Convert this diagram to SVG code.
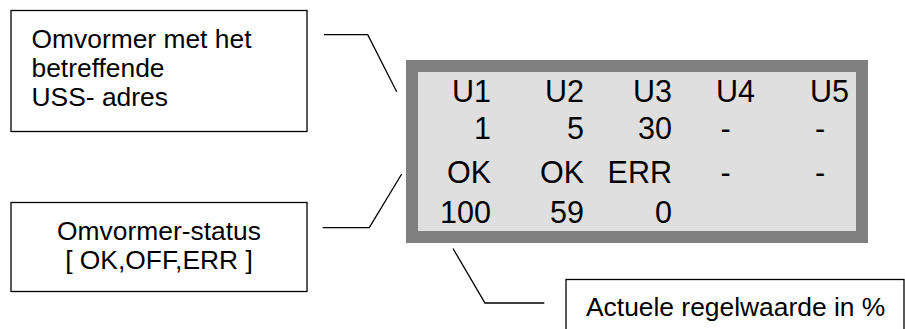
<svg xmlns="http://www.w3.org/2000/svg" width="905" height="329" viewBox="0 0 905 329">
  <style>
    .box { fill: #ffffff; stroke: #000000; stroke-width: 1.3; }
    .lbl { font-family: "Liberation Sans", Arial, sans-serif; font-size: 26.4px; fill: #000000; }
    .lcd { font-family: "Liberation Sans", Arial, sans-serif; font-size: 30.5px; fill: #000000; }
    .lead { fill: none; stroke: #000000; stroke-width: 1.3; }
    .r { text-anchor: end; }
  </style>
  <rect width="905" height="329" fill="#ffffff"/>

  <!-- label: inverter with USS address -->
  <g id="label-address">
    <rect class="box" x="11" y="10.5" width="296" height="121"/>
    <text class="lbl" x="31.5" y="47.5">Omvormer met het</text>
    <text class="lbl" x="31.5" y="77">betreffende</text>
    <text class="lbl" x="31.5" y="106">USS- adres</text>
  </g>

  <!-- label: inverter status -->
  <g id="label-status">
    <rect class="box" x="11" y="202.5" width="296" height="89"/>
    <text class="lbl" x="159" y="239.5" text-anchor="middle">Omvormer-status</text>
    <text class="lbl" x="159" y="269" text-anchor="middle">[ OK,OFF,ERR ]</text>
  </g>

  <!-- label: actual control value -->
  <g id="label-value">
    <rect class="box" x="566" y="279.5" width="338" height="60"/>
    <text class="lbl" x="586" y="316">Actuele regelwaarde in %</text>
  </g>

  <!-- display panel -->
  <g id="display">
    <rect x="406" y="60" width="462" height="183" fill="#808080"/>
    <rect x="418" y="72" width="438" height="159" fill="#dfdfdf"/>
    <!-- row 1: unit names -->
    <text class="lcd r" x="491" y="102">U1</text>
    <text class="lcd r" x="584" y="102">U2</text>
    <text class="lcd r" x="672" y="102">U3</text>
    <text class="lcd" x="716" y="102">U4</text>
    <text class="lcd" x="810" y="102">U5</text>
    <!-- row 2: USS addresses -->
    <text class="lcd r" x="491" y="138.5">1</text>
    <text class="lcd r" x="584" y="138.5">5</text>
    <text class="lcd r" x="672" y="138.5">30</text>
    <text class="lcd" x="720.5" y="138.5">-</text>
    <text class="lcd" x="815" y="138.5">-</text>
    <!-- row 3: status -->
    <text class="lcd r" x="491" y="182.5">OK</text>
    <text class="lcd r" x="584" y="182.5">OK</text>
    <text class="lcd r" x="672" y="182.5">ERR</text>
    <text class="lcd" x="720.5" y="182.5">-</text>
    <text class="lcd" x="815" y="182.5">-</text>
    <!-- row 4: control values -->
    <text class="lcd r" x="491" y="223">100</text>
    <text class="lcd r" x="584" y="223">59</text>
    <text class="lcd r" x="672" y="223">0</text>
  </g>

  <!-- leader lines -->
  <g id="connectors">
    <polyline class="lead" points="324,34.7 367.7,34.7 396.7,91.7"/>
    <polyline class="lead" points="322.7,227.7 369.3,227.7 401.7,174"/>
    <polyline class="lead" points="453,248.5 485,303 544.3,303"/>
  </g>
</svg>
